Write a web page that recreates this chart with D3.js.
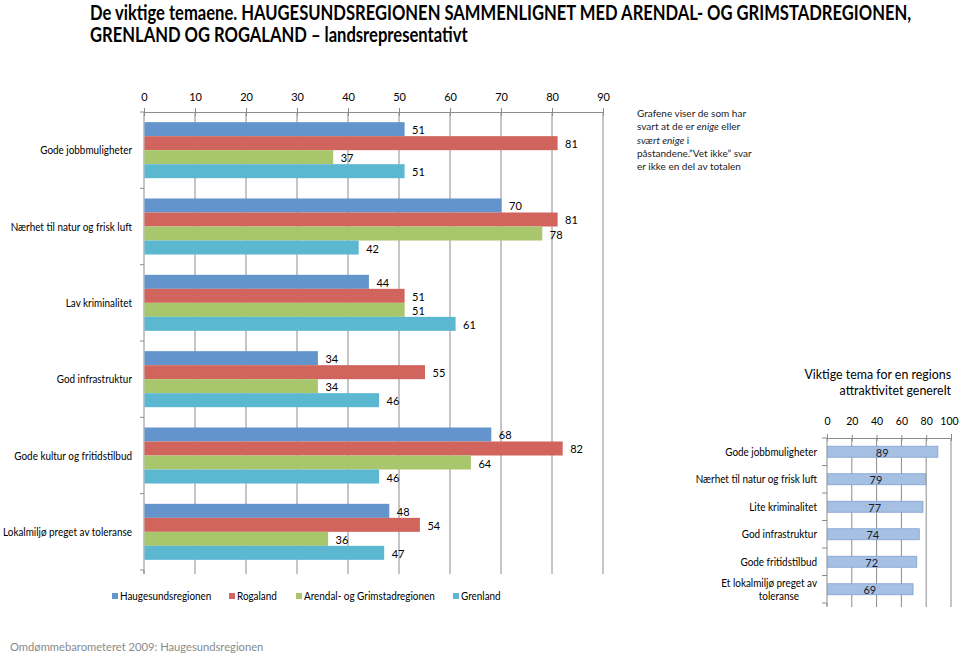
<!DOCTYPE html>
<html><head><meta charset="utf-8">
<script src="https://cdn.jsdelivr.net/npm/d3@7"></script>
<style>body{margin:0;background:#fff}svg{display:block;font-family:Lato,"Open Sans",sans-serif}</style>
</head><body><svg id="c" width="960" height="654"></svg>
<script>
const categories = ["Gode jobbmuligheter","Nærhet til natur og frisk luft","Lav kriminalitet","God infrastruktur","Gode kultur og fritidstilbud","Lokalmiljø preget av toleranse"];
const seriesNames = ["Haugesundsregionen","Rogaland","Arendal- og Grimstadregionen","Grenland"];
const haugesund = [51,70,44,34,68,48];
const rogaland = [81,81,51,55,82,54];
const arendal = [37,78,51,34,64,36];
const grenland = [51,42,61,46,46,47];
const seriesColors = ["#6394CB","#D2645E","#A8C66C","#5BB8D0"];
const mainTicks = [0,10,20,30,40,50,60,70,80,90];

const sideCategories = ["Gode jobbmuligheter","Nærhet til natur og frisk luft","Lite kriminalitet","God infrastruktur","Gode fritidstilbud","Et lokalmiljø preget av|toleranse"];
const sideValues = [89,79,77,74,72,69];
const sideTicks = [0,20,40,60,80,100];

const svg = d3.select("#c");
const seriesVals = [haugesund, rogaland, arendal, grenland];

function condense(sel, f){
  sel.each(function(){ const w=this.getComputedTextLength(); d3.select(this).attr("textLength",w*f).attr("lengthAdjust","spacingAndGlyphs"); });
}

// Title (horizontally condensed via transform to mimic the narrow original face)
const t1 = svg.append("text").attr("x",0).attr("y",0).attr("font-weight","bold").attr("font-size",20)
  .text("De viktige temaene. HAUGESUNDSREGIONEN SAMMENLIGNET MED ARENDAL- OG GRIMSTADREGIONEN,");
const t2 = svg.append("text").attr("x",0).attr("y",0).attr("font-weight","bold").attr("font-size",20)
  .text("GRENLAND OG ROGALAND – landsrepresentativt");
const titleScale = 822 / t1.node().getComputedTextLength();
t1.attr("transform",`translate(90,20) scale(${titleScale},1)`);
t2.attr("transform",`translate(90,42) scale(${titleScale},1)`);

// Main chart
const x = d3.scaleLinear().domain([0,90]).range([144,603]);
const y = d3.scaleBand().domain(categories).range([112,570]).paddingInner(0.266).paddingOuter(0.133);
const ys = d3.scaleBand().domain(d3.range(4)).range([0,y.bandwidth()]);
const full = d3.scaleBand().domain(categories).range([112,570]);

const g = svg.append("g");
g.selectAll("line.grid").data(mainTicks.slice(1)).join("line")
 .attr("x1",d=>x(d)).attr("x2",d=>x(d)).attr("y1",112).attr("y2",570)
 .attr("stroke","#8c8c8c").attr("stroke-width",1);
const topAxis = d3.axisTop(x).tickValues(mainTicks).tickSize(4).tickPadding(7);
const ta = g.append("g").attr("transform","translate(0,112)").call(topAxis);
ta.select(".domain").attr("stroke","#8c8c8c");
ta.selectAll(".tick line").attr("stroke","#8c8c8c").attr("y2",4).attr("y1",-4);
ta.selectAll(".tick text").attr("font-size",11).attr("fill","#000").attr("font-family","Lato,sans-serif");
g.selectAll("line.bt").data(mainTicks).join("line")
 .attr("x1",d=>x(d)).attr("x2",d=>x(d)).attr("y1",570).attr("y2",574).attr("stroke","#8c8c8c");
g.append("line").attr("x1",144).attr("x2",144).attr("y1",112).attr("y2",574).attr("stroke","#8c8c8c");
const bounds = categories.map(c=>full(c)).concat([570]);
g.selectAll("line.lt").data(bounds).join("line")
 .attr("x1",140).attr("x2",144).attr("y1",d=>d).attr("y2",d=>d).attr("stroke","#8c8c8c");

seriesVals.forEach((vals,si)=>{
  const sg = g.append("g");
  sg.selectAll("rect").data(vals).join("rect")
    .attr("x",x(0)+0.5).attr("y",(d,i)=>y(categories[i])+ys(si))
    .attr("width",d=>x(d)-x(0)).attr("height",ys.bandwidth())
    .attr("fill",seriesColors[si]);
  sg.selectAll("text").data(vals).join("text")
    .attr("x",d=>x(d)+8).attr("y",(d,i)=>y(categories[i])+ys(si)+ys.bandwidth()/2+5)
    .attr("font-size",11).attr("fill","#000").text(d=>d);
});
g.selectAll("text.cat").data(categories).join("text")
 .attr("x",132).attr("y",c=>full(c)+full.bandwidth()/2+4).attr("text-anchor","end")
 .attr("font-size",11).attr("fill","#000").text(d=>d).call(condense,0.9);

// Legend
const legendX = [112,229,296,453];
const lg = svg.append("g");
seriesNames.forEach((n,i)=>{
  lg.append("rect").attr("x",legendX[i]).attr("y",593).attr("width",6).attr("height",6).attr("fill",seriesColors[i]);
  lg.append("text").attr("x",legendX[i]+8).attr("y",600).attr("font-size",11).attr("fill","#000").text(n).call(condense,0.9);
});

// Annotation
const ann = svg.append("text").attr("font-size",10).attr("fill","#222");
const annLines = [
 [["Grafene viser de som har",false]],
 [["svart at de er ",false],["enige",true],[" eller",false]],
 [["svært enige",true],[" i",false]],
 [["påstandene.”Vet ikke” svar",false]],
 [["er ikke en del av totalen",false]]
];
annLines.forEach((line,li)=>{
  line.forEach((seg,si)=>{
    const t = ann.append("tspan").text(seg[0]).attr("font-style",seg[1]?"italic":"normal");
    if(si===0) t.attr("x",637).attr("y",117+li*13.3);
  });
});

// Side chart
const sx = d3.scaleLinear().domain([0,100]).range([827,951]);
const sy = d3.scaleBand().domain(sideCategories).range([438,603]).paddingInner(0.6).paddingOuter(0.3);
const sfull = d3.scaleBand().domain(sideCategories).range([438,603]);
const sg2 = svg.append("g");
const st = sg2.append("text").attr("font-size",12.4).attr("fill","#000").attr("text-anchor","end");
st.append("tspan").attr("x",951).attr("y",379).text("Viktige tema for en regions");
st.append("tspan").attr("x",951).attr("y",395).text("attraktivitet generelt");
sg2.selectAll("line.g").data(sideTicks.slice(1)).join("line")
 .attr("x1",d=>sx(d)).attr("x2",d=>sx(d)).attr("y1",438).attr("y2",603).attr("stroke","#8c8c8c");
const sa = sg2.append("g").attr("transform","translate(0,438)").call(d3.axisTop(sx).tickValues(sideTicks).tickSize(4).tickPadding(9));
sa.select(".domain").attr("stroke","#8c8c8c");
sa.selectAll(".tick line").attr("stroke","#8c8c8c").attr("y1",-3).attr("y2",3);
sa.selectAll(".tick text").attr("font-size",10.5).attr("fill","#000").attr("font-family","Lato,sans-serif");
sa.selectAll(".tick").filter(d=>d===100).select("text").attr("dx",-2);
sg2.selectAll("line.bt").data(sideTicks).join("line")
 .attr("x1",d=>sx(d)).attr("x2",d=>sx(d)).attr("y1",603).attr("y2",607).attr("stroke","#8c8c8c");
sg2.append("line").attr("x1",827).attr("x2",827).attr("y1",438).attr("y2",606).attr("stroke","#8c8c8c");
sg2.selectAll("line.lt").data(sideCategories.map(c=>sfull(c)).concat([603])).join("line")
 .attr("x1",822).attr("x2",827).attr("y1",d=>d).attr("y2",d=>d).attr("stroke","#8c8c8c");
sg2.selectAll("rect").data(sideValues).join("rect")
 .attr("x",sx(0)+0.5).attr("y",(d,i)=>sy(sideCategories[i]))
 .attr("width",d=>sx(d)-sx(0)).attr("height",sy.bandwidth())
 .attr("fill","#A5C0E3").attr("stroke","#7FA0CF").attr("stroke-width",0.8);
sg2.selectAll("text.v").data(sideValues).join("text")
 .attr("x",d=>(sx(d)+sx(0))/2).attr("y",(d,i)=>sy(sideCategories[i])+sy.bandwidth()/2+5)
 .attr("text-anchor","middle").attr("font-size",11).attr("fill","#1a1a2e").text(d=>d);
sideCategories.forEach(c=>{
  const parts = c.split("|");
  const cy = sfull(c)+sfull.bandwidth()/2+4;
  const mk = (txt,xx,yy)=>sg2.append("text").attr("text-anchor","end").attr("font-size",11).attr("fill","#000")
      .attr("x",xx).attr("y",yy).text(txt).call(condense,0.9);
  if(parts.length===1){ mk(parts[0],817,cy); }
  else { mk(parts[0],817,cy-6.5); mk(parts[1],799,cy+6.5); }
});

// Footer
svg.append("text").attr("x",10).attr("y",651).attr("font-size",11.2).attr("fill","#8a8a8a").text("Omdømmebarometeret 2009: Haugesundsregionen");
</script></body></html>
